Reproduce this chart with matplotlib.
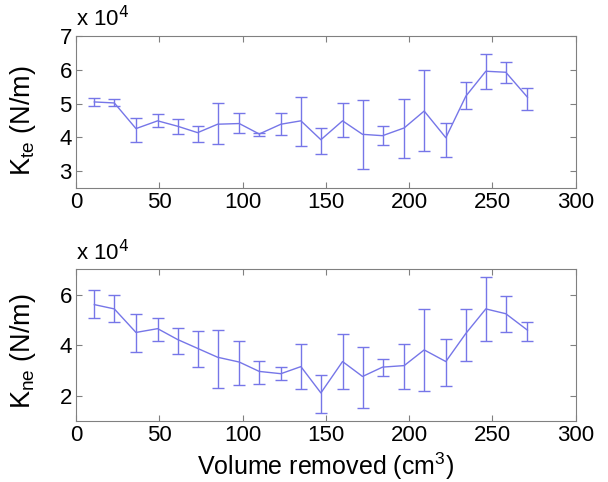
import matplotlib.pyplot as plt

plt.rcParams['font.family'] = ['Liberation Sans', 'DejaVu Sans']

# Volumen retirado (cm3)
volume = [11, 23, 36, 49, 61, 73, 85, 98, 110, 123, 135, 147,
          160, 172, 184, 197, 209, 222, 234, 246, 258, 271]

# K_te (x 10^4 N/m): media, extremo inferior y superior de la barra
kte_mean = [5.05, 5.02, 4.26, 4.49, 4.33, 4.14, 4.39, 4.41, 4.10, 4.39, 4.49, 3.93,
            4.49, 4.09, 4.05, 4.28, 4.78, 3.99, 5.22, 5.96, 5.93, 5.19]
kte_low = [4.92, 4.92, 3.87, 4.30, 4.09, 3.87, 3.80, 4.12, 4.05, 4.07, 3.75, 3.51,
           4.00, 3.07, 3.76, 3.39, 3.61, 3.41, 4.83, 5.43, 5.61, 4.80]
kte_high = [5.18, 5.15, 4.58, 4.68, 4.53, 4.34, 5.02, 4.71, 4.14, 4.71, 5.21, 4.28,
            5.02, 5.12, 4.35, 5.15, 5.99, 4.44, 5.65, 6.47, 6.24, 5.46]

# K_ne (x 10^4 N/m)
kne_mean = [5.61, 5.44, 4.51, 4.66, 4.23, 3.88, 3.53, 3.34, 2.97, 2.88, 3.16, 2.12,
            3.36, 2.77, 3.14, 3.20, 3.82, 3.36, 4.47, 5.44, 5.25, 4.60]
kne_low = [5.08, 4.92, 3.75, 4.18, 3.66, 3.16, 2.32, 2.45, 2.49, 2.62, 2.28, 1.34,
           2.28, 1.54, 2.80, 2.29, 2.19, 2.38, 3.40, 4.17, 4.53, 4.17]
kne_high = [6.20, 5.99, 5.22, 5.09, 4.70, 4.57, 4.62, 4.17, 3.40, 3.16, 4.05, 2.81,
            4.45, 3.95, 3.46, 4.06, 5.44, 4.25, 5.44, 6.71, 5.95, 4.92]

x_ticks = [0, 50, 100, 150, 200, 250, 300]
kte_ticks = [3, 4, 5, 6, 7]
kne_ticks = [2, 4, 6]

line_color = '#7676e8'
frame_color = '#808080'


def draw_panel(ax, mean, low, high, yticks, ylim, label, label_y):
    err = [[m - l for m, l in zip(mean, low)], [h - m for m, h in zip(mean, high)]]
    ax.errorbar(volume, mean, yerr=err, color=line_color, linewidth=1,
                elinewidth=1, capsize=4, capthick=1)
    ax.set_xlim(0, 300)
    ax.set_ylim(*ylim)
    ax.set_xticks(x_ticks)
    ax.set_yticks(yticks)
    ax.tick_params(direction='in', top=True, right=True, length=4,
                   color=frame_color, labelsize=16, pad=3)
    for s in ax.spines.values():
        s.set_color(frame_color)
    ax.set_ylabel(label, fontsize=19.5)
    ax.yaxis.set_label_coords(-0.076, label_y)
    # Factor de escala estilo MATLAB
    ax.text(0, 1.03, r'x 10$^4$', transform=ax.transAxes, fontsize=16,
            ha='left', va='bottom')


fig = plt.figure(figsize=(6.08, 4.82), dpi=100)
ax1 = fig.add_axes([0.125, 0.610, 0.822, 0.315])
ax2 = fig.add_axes([0.125, 0.126, 0.822, 0.315])

draw_panel(ax1, kte_mean, kte_low, kte_high, kte_ticks, (2.5, 7),
           r'K$_{\mathregular{te}}$ (N/m)', 0.44)
draw_panel(ax2, kne_mean, kne_low, kne_high, kne_ticks, (1, 7),
           r'K$_{\mathregular{ne}}$ (N/m)', 0.46)
ax2.set_xlabel(r'Volume removed (cm$^{\mathregular{3}}$)', fontsize=18, labelpad=3)

fig.savefig('out.png', dpi=100)
